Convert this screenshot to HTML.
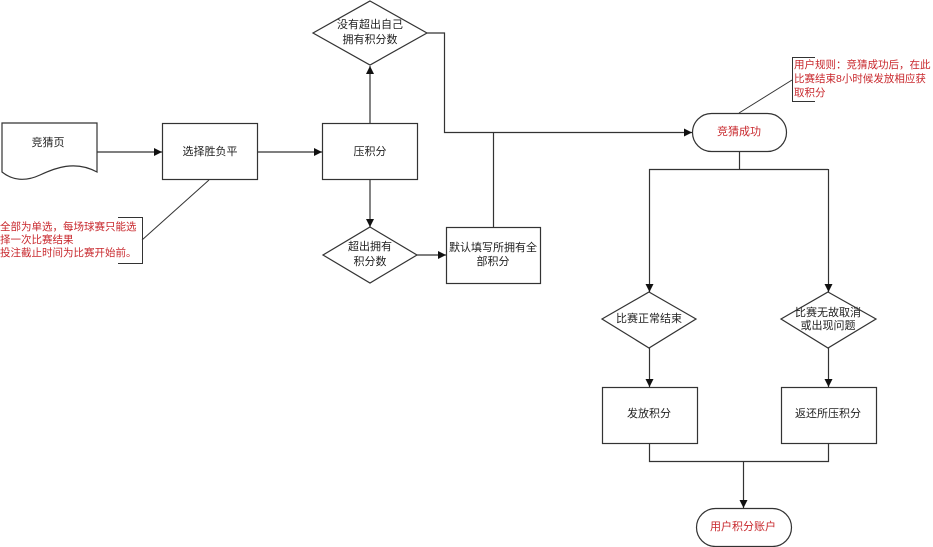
<!DOCTYPE html>
<html><head><meta charset="utf-8"><style>
html,body{margin:0;padding:0;background:#fff;}
svg{display:block;}
text{font-family:"Liberation Sans","Noto Sans CJK SC","WenQuanYi Zen Hei",sans-serif;font-size:11px;fill:#222;}
.r{fill:#c8282d;font-size:10.5px;}
.c{fill:#c8282d;}
</style></head><body>
<svg width="933" height="547" viewBox="0 0 933 547" xmlns="http://www.w3.org/2000/svg">
<defs>
<marker id="a" markerWidth="8" markerHeight="8" refX="8" refY="4" orient="auto" markerUnits="userSpaceOnUse">
<path d="M0,0 L8,4 L0,8 z" fill="#111"/>
</marker>
</defs>
<g fill="none" stroke="#333" stroke-width="1.2">
<!-- document shape -->
<path d="M2,123 L97,123 L97,172 C75,160 55,168 40,175 C25,182 12,180 2,172 Z" fill="#fff"/>
<!-- boxes -->
<rect x="162.5" y="123.5" width="95" height="56" fill="#fff"/>
<rect x="322.5" y="123.5" width="95" height="56" fill="#fff"/>
<rect x="446.5" y="227.5" width="94" height="56" fill="#fff"/>
<rect x="602.5" y="387.5" width="95" height="56" fill="#fff"/>
<rect x="781.5" y="387.5" width="95" height="56" fill="#fff"/>
<!-- diamonds -->
<path d="M370,1 L427,33 L370,65 L313,33 Z" fill="#fff"/>
<path d="M370,227 L417,255 L370,283 L323,255 Z" fill="#fff"/>
<path d="M649,292 L696,319 L649,348 L602,319 Z" fill="#fff"/>
<path d="M828,292 L876,319 L828,348 L781,319 Z" fill="#fff"/>
<!-- pills -->
<rect x="692.5" y="113.5" width="94" height="38" rx="19" fill="#fff"/>
<rect x="696.5" y="508.5" width="95" height="38" rx="19" fill="#fff"/>
<!-- connectors -->
<line x1="97" y1="152" x2="162" y2="152" marker-end="url(#a)"/>
<line x1="257" y1="152" x2="322" y2="152" marker-end="url(#a)"/>
<line x1="370" y1="123" x2="370" y2="66" marker-end="url(#a)"/>
<line x1="370" y1="179" x2="370" y2="227" marker-end="url(#a)"/>
<line x1="417" y1="255" x2="446" y2="255" marker-end="url(#a)"/>
<polyline points="427,33 444.5,33 444.5,132.5 692,132.5" marker-end="url(#a)"/>
<line x1="493.5" y1="227" x2="493.5" y2="132"/>
<line x1="739.5" y1="151" x2="739.5" y2="169.5"/>
<line x1="649" y1="169.5" x2="828" y2="169.5"/>
<line x1="649.5" y1="169" x2="649.5" y2="292" marker-end="url(#a)"/>
<line x1="828.5" y1="169" x2="828.5" y2="292" marker-end="url(#a)"/>
<line x1="649.5" y1="348" x2="649.5" y2="387" marker-end="url(#a)"/>
<line x1="828.5" y1="348" x2="828.5" y2="387" marker-end="url(#a)"/>
<polyline points="649.5,443 649.5,461.5 828.5,461.5 828.5,443"/>
<line x1="743.5" y1="461" x2="743.5" y2="508" marker-end="url(#a)"/>
<!-- note leaders -->
<line x1="209" y1="180" x2="142" y2="240" stroke-width="1"/>
<polyline points="118,217.5 142.5,217.5 142.5,263.5 118,263.5" stroke-width="1"/>
<line x1="739" y1="113" x2="792" y2="80" stroke-width="1"/>
<polyline points="815,57.5 792.5,57.5 792.5,101.5 815,101.5" stroke-width="1"/>
</g>
<!-- labels -->
<g text-anchor="middle" dominant-baseline="central">
<text x="48" y="143">竞猜页</text>
<text x="210" y="152">选择胜负平</text>
<text x="370" y="152">压积分</text>
<text x="370" y="25">没有超出自己</text>
<text x="370" y="40">拥有积分数</text>
<text x="370" y="247">超出拥有</text>
<text x="370" y="262">积分数</text>
<text x="493" y="248">默认填写所拥有全</text>
<text x="493" y="262">部积分</text>
<text class="c" x="739" y="132">竞猜成功</text>
<text x="649" y="319">比赛正常结束</text>
<text x="828" y="313">比赛无故取消</text>
<text x="828" y="326">或出现问题</text>
<text x="649" y="414">发放积分</text>
<text x="828" y="414">返还所压积分</text>
<text class="c" x="743" y="527">用户积分账户</text>
</g>
<g dominant-baseline="central">
<text class="r" x="0" y="227">全部为单选，每场球赛只能选</text>
<text class="r" x="0" y="240">择一次比赛结果</text>
<text class="r" x="0" y="253">投注截止时间为比赛开始前。</text>
<text class="r" x="794" y="65">用户规则：竞猜成功后，在此</text>
<text class="r" x="794" y="79">比赛结束8小时候发放相应获</text>
<text class="r" x="794" y="93">取积分</text>
</g>
</svg>
</body></html>
